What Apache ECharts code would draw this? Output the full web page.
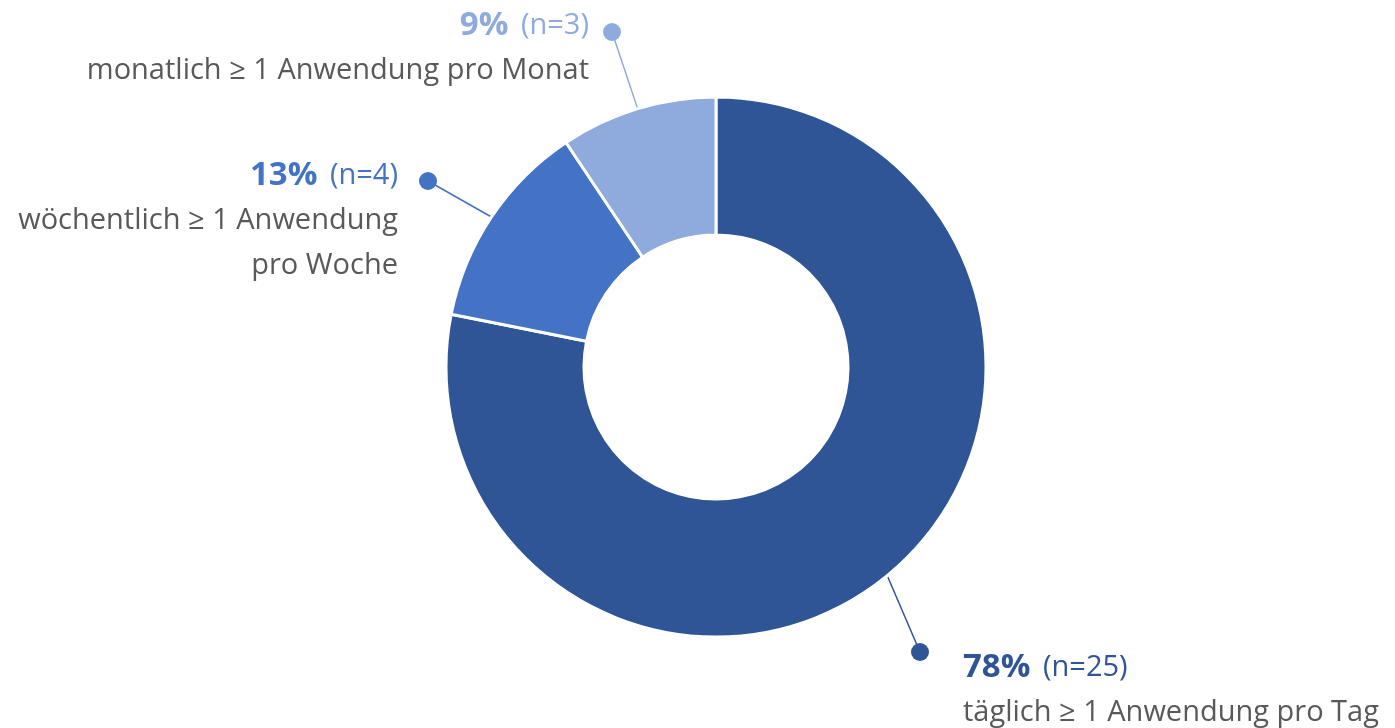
<!DOCTYPE html>
<html><head><meta charset="utf-8">
<script src="https://cdn.jsdelivr.net/npm/echarts@6/dist/echarts.min.js"></script>
<style>html,body{margin:0;padding:0;background:#fff}#c{width:1395px;height:728px}</style>
</head><body><div id="c"></div>
<script>
// ---- data ----
const categories = ['täglich ≥ 1 Anwendung pro Tag', 'wöchentlich ≥ 1 Anwendung\npro Woche', 'monatlich ≥ 1 Anwendung pro Monat'];
const counts = [25, 4, 3];
const percentLabels = ['78%', '13%', '9%'];
const colors = ['#2F5597', '#4472C4', '#8FAADC'];

// ---- layout ----
const CX = 716, CY = 367, R_OUT = 270, R_IN = 132;
const placement = [
  {dot: [920, 652], x: 963, y: 646, align: 'left'},
  {dot: [428, 181], x: 398, y: 154, align: 'right'},
  {dot: [612, 32], x: 589, y: 4, align: 'right'}
];
const FONT = '"Open Sans", "Noto Sans", sans-serif';

const total = counts.reduce((a, b) => a + b, 0);
function midPoint(i) {
  let before = 0;
  for (let k = 0; k < i; k++) before += counts[k];
  const frac = (before + counts[i] / 2) / total;
  const th = frac * 2 * Math.PI; // clockwise from top
  return [CX + R_OUT * Math.sin(th), CY - R_OUT * Math.cos(th)];
}

const chart = echarts.init(document.getElementById('c'), null, {renderer: 'canvas'});
const option = {
  animation: false,
  backgroundColor: '#ffffff',
  series: [{
    type: 'pie',
    center: [CX, CY],
    radius: [R_IN, R_OUT],
    startAngle: 90,
    clockwise: true,
    avoidLabelOverlap: false,
    emphasis: {disabled: true},
    itemStyle: {borderColor: '#ffffff', borderWidth: 3},
    data: counts.map((v, i) => ({
      name: categories[i],
      value: v,
      itemStyle: {color: colors[i]},
      label: {
        rich: {
          p: {fontFamily: FONT, fontSize: 33, fontWeight: 'bold', color: colors[i], lineHeight: 44},
          n: {fontFamily: FONT, fontSize: 29, color: colors[i], lineHeight: 44, padding: [0, 0, 0, 5]},
          d: {fontFamily: FONT, fontSize: 29, color: '#595959', lineHeight: 45}
        }
      },
      labelLine: {lineStyle: {color: colors[i], width: 1.5}}
    })),
    label: {
      show: true,
      position: 'outside',
      formatter: (p) => {
        const i = p.dataIndex;
        const desc = categories[i].split('\n').map(s => '{d|' + s + '}').join('\n');
        return '{p|' + percentLabels[i] + '}{n| (n=' + counts[i] + ')}\n' + desc;
      }
    },
    labelLine: {show: true, length: 10, length2: 10},
    labelLayout: (params) => {
      const i = params.dataIndex;
      const pl = placement[i];
      const s = midPoint(i);
      return {
        x: pl.x, y: pl.y, align: pl.align, verticalAlign: 'top',
        labelLinePoints: [s, pl.dot, pl.dot]
      };
    }
  }],
  graphic: placement.map((pl, i) => ({
    type: 'circle', z: 100,
    shape: {cx: pl.dot[0], cy: pl.dot[1], r: 9},
    style: {fill: colors[i]}
  }))
};
chart.setOption(option);
</script>
</body></html>
